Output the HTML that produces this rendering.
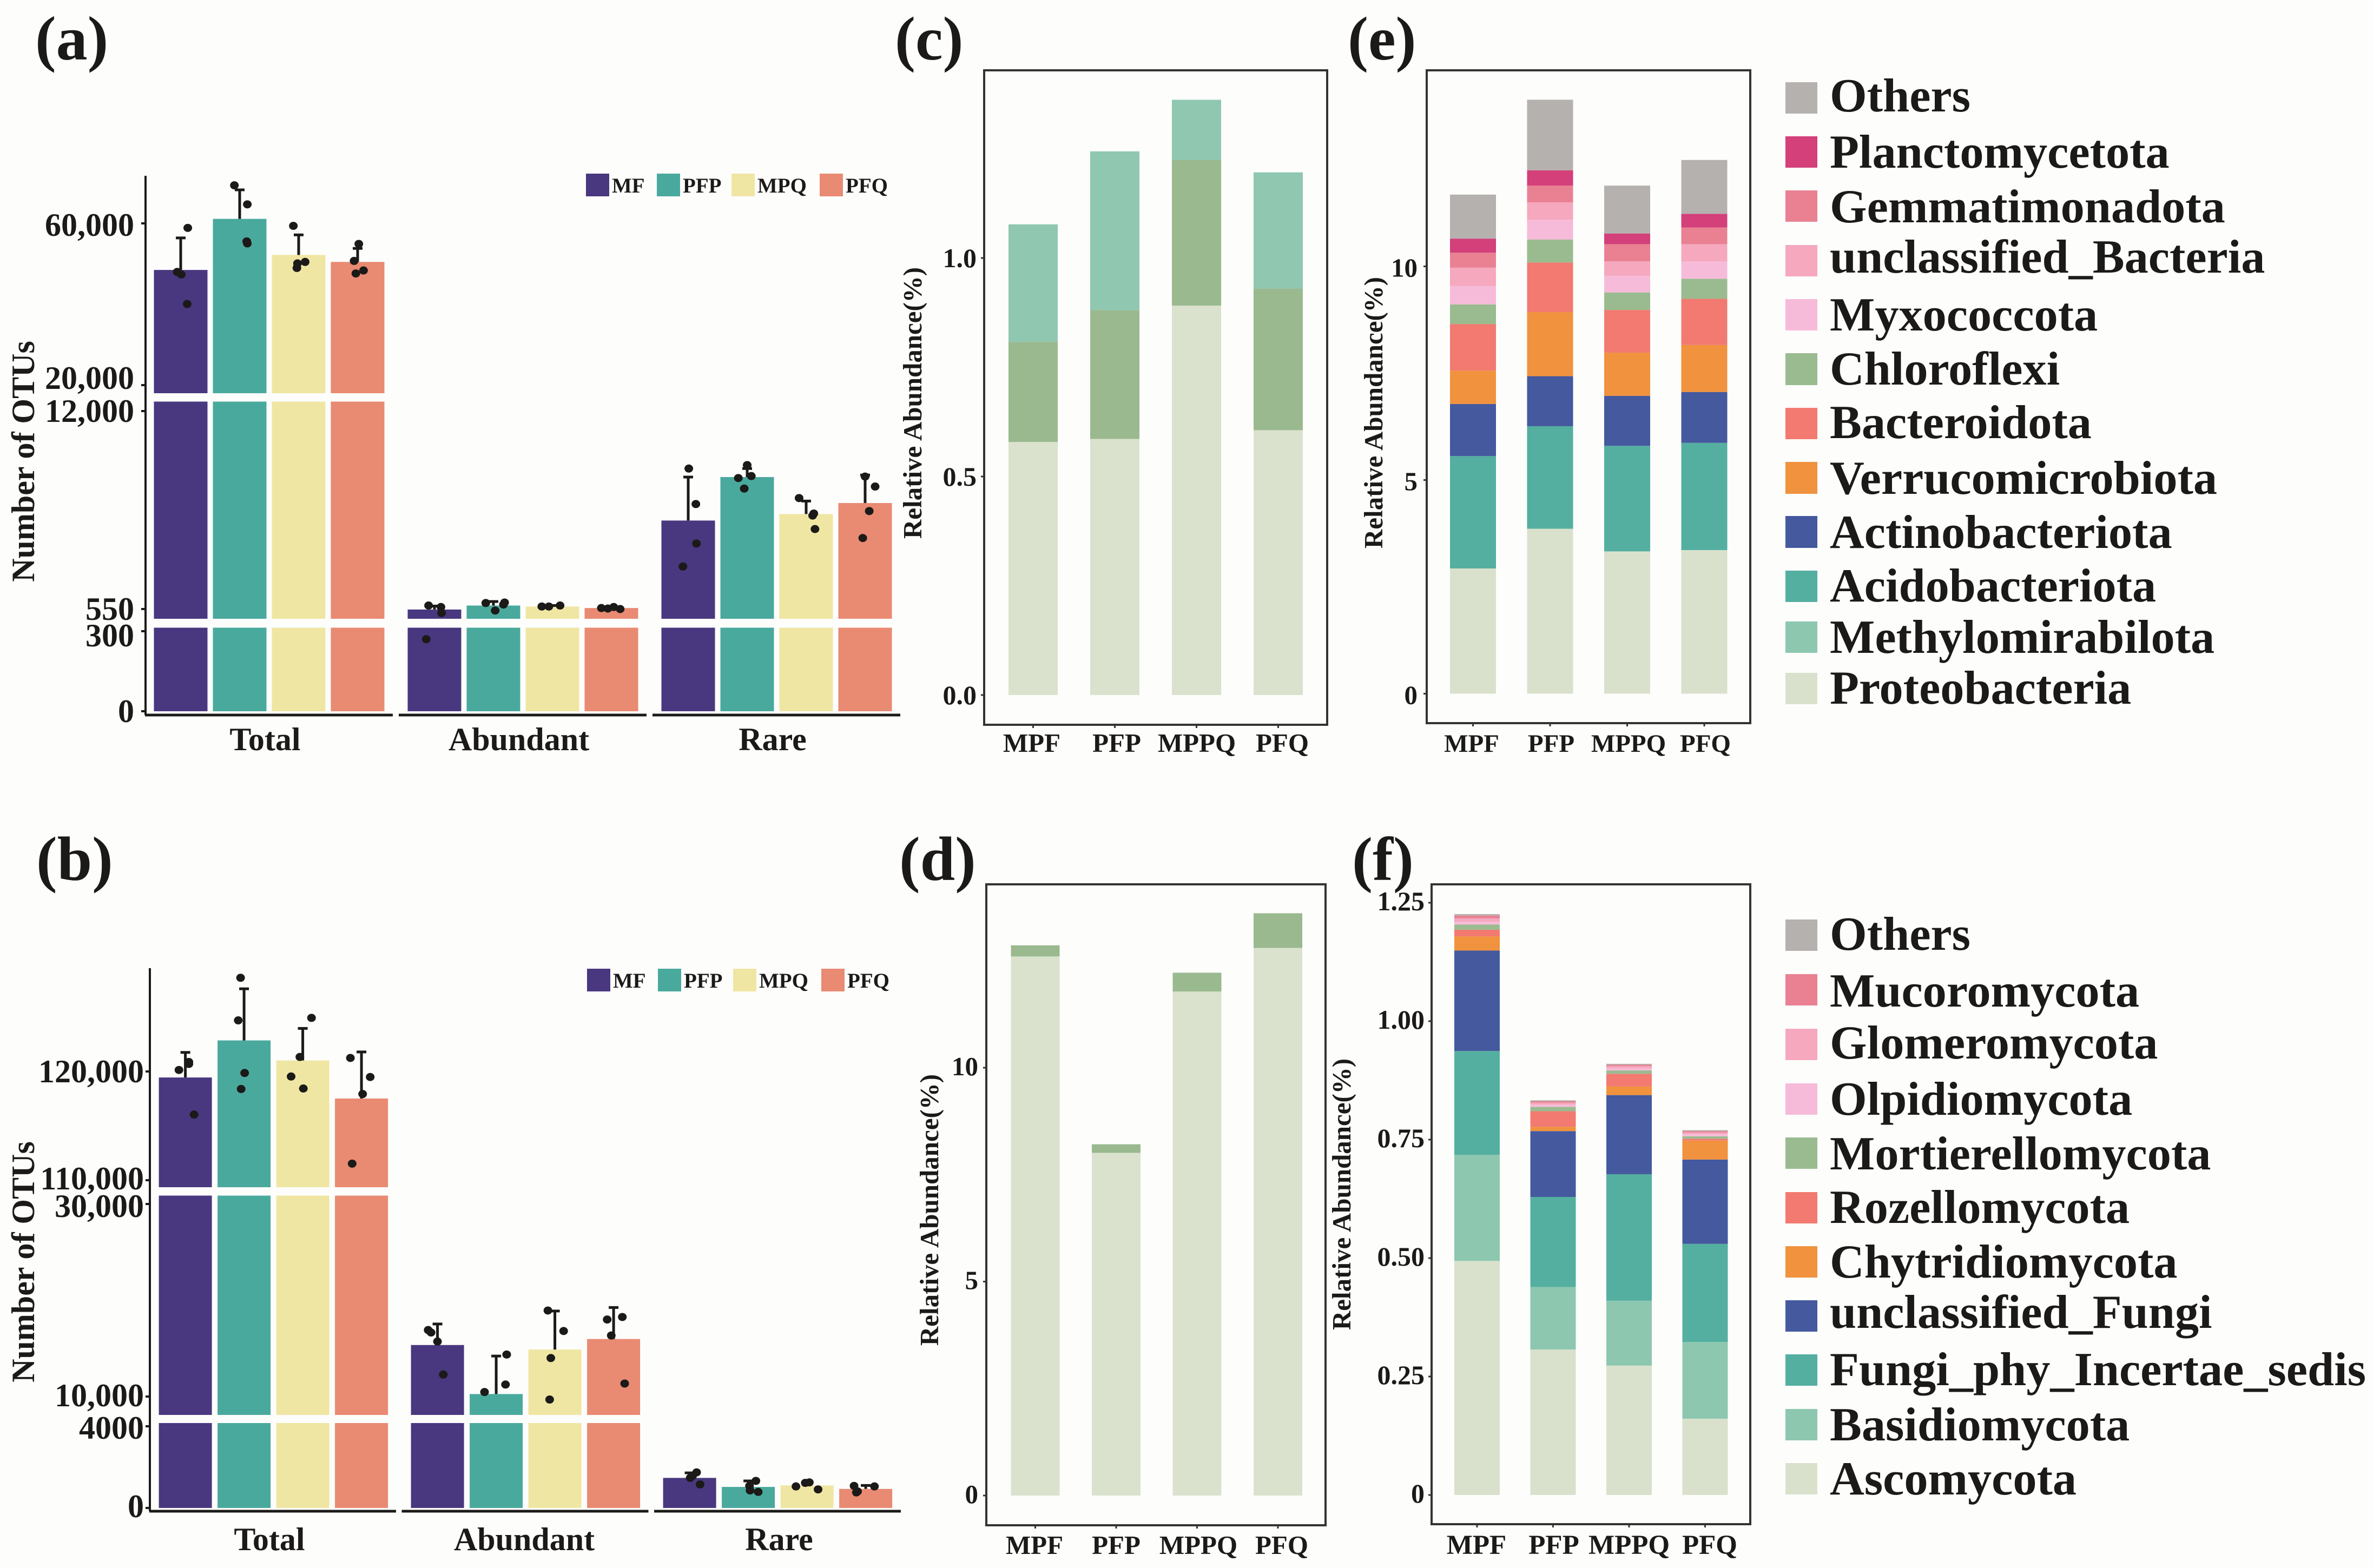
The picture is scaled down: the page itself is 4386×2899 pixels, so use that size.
<!DOCTYPE html>
<html lang="en">
<head>
<meta charset="utf-8">
<title>Microbial OTU counts and relative abundance</title>
<style>
html,body{margin:0;padding:0;background:#fdfdfc;}
svg{display:block;}
text{font-family:"Liberation Serif",serif;font-weight:bold;fill:#1b1a18;}
</style>
</head>
<body>
<svg id="fig" xmlns="http://www.w3.org/2000/svg" width="4386" height="2899" viewBox="0 0 4386 2899">
<rect x="0" y="0" width="4386" height="2899" fill="#fdfdfc"/>
<text x="65" y="110" font-size="116">(a)</text>
<text x="67" y="1627" font-size="116">(b)</text>
<text x="1654" y="110" font-size="114">(c)</text>
<text x="1662" y="1627" font-size="116">(d)</text>
<text x="2491" y="110" font-size="114">(e)</text>
<text x="2499" y="1627" font-size="114">(f)</text>

<g>
<rect x="3300" y="152" width="59" height="58" fill="#b5b1ae"/><text x="3382" y="206" font-size="88.3">Others</text>
<rect x="3300" y="252" width="59" height="58" fill="#d3407a"/><text x="3382" y="310" font-size="88.3">Planctomycetota</text>
<rect x="3300" y="352" width="59" height="58" fill="#e98193"/><text x="3382" y="411" font-size="88.3">Gemmatimonadota</text>
<rect x="3300" y="453" width="59" height="58" fill="#f5a8be"/><text x="3382" y="504" font-size="88.3">unclassified_Bacteria</text>
<rect x="3300" y="553" width="59" height="58" fill="#f6bbd8"/><text x="3382" y="611" font-size="88.3">Myxococcota</text>
<rect x="3300" y="653" width="59" height="59" fill="#9abb8f"/><text x="3382" y="711" font-size="88.3">Chloroflexi</text>
<rect x="3300" y="754" width="59" height="58" fill="#f27a70"/><text x="3382" y="810" font-size="88.3">Bacteroidota</text>
<rect x="3300" y="854" width="59" height="59" fill="#f0923e"/><text x="3382" y="913" font-size="88.3">Verrucomicrobiota</text>
<rect x="3300" y="954" width="59" height="59" fill="#44599e"/><text x="3382" y="1013" font-size="88.3">Actinobacteriota</text>
<rect x="3300" y="1055" width="59" height="58" fill="#54afa0"/><text x="3382" y="1112" font-size="88.3">Acidobacteriota</text>
<rect x="3300" y="1149" width="59" height="58" fill="#8dc7b0"/><text x="3382" y="1207" font-size="88.3">Methylomirabilota</text>
<rect x="3300" y="1244" width="59" height="58" fill="#d9e1cc"/><text x="3382" y="1301" font-size="88.3">Proteobacteria</text>
</g>

<g>
<rect x="3300" y="1700" width="59" height="58" fill="#b5b1ae"/><text x="3382" y="1756" font-size="88.3">Others</text>
<rect x="3300" y="1801" width="59" height="58" fill="#e98193"/><text x="3382" y="1861" font-size="88.3">Mucoromycota</text>
<rect x="3300" y="1902" width="59" height="58" fill="#f5a8be"/><text x="3382" y="1957" font-size="88.3">Glomeromycota</text>
<rect x="3300" y="2003" width="59" height="58" fill="#f6bbd8"/><text x="3382" y="2061" font-size="88.3">Olpidiomycota</text>
<rect x="3300" y="2103" width="59" height="58" fill="#9abb8f"/><text x="3382" y="2162" font-size="88.3">Mortierellomycota</text>
<rect x="3300" y="2204" width="59" height="58" fill="#f27a70"/><text x="3382" y="2261" font-size="88.3">Rozellomycota</text>
<rect x="3300" y="2304" width="59" height="58" fill="#f0923e"/><text x="3382" y="2362" font-size="88.3">Chytridiomycota</text>
<rect x="3300" y="2404" width="59" height="58" fill="#44599e"/><text x="3382" y="2455" font-size="88.3">unclassified_Fungi</text>
<rect x="3300" y="2504" width="59" height="58" fill="#54afa0"/><text x="3382" y="2561" font-size="88.3">Fungi_phy_Incertae_sedis</text>
<rect x="3300" y="2605" width="59" height="58" fill="#8dc7b0"/><text x="3382" y="2663" font-size="88.3">Basidiomycota</text>
<rect x="3300" y="2705" width="59" height="58" fill="#d9e1cc"/><text x="3382" y="2763" font-size="88.3">Ascomycota</text>
</g>
</svg>

<script>
// ---------- shared categories ----------
const treatments = ['MF','PFP','MPQ','PFQ'];
const treatmentColors = ['#49387f','#4aa99d','#f0e6a3','#e98a72'];
const groups = ['Total','Abundant','Rare'];
const stackCategories = ['MPF','PFP','MPPQ','PFQ'];

// ---------- panel (a) ----------
const aTickValues = [60000,20000,12000,550,300,0];
const aTickLabels = ['60,000','20,000','12,000','550','300','0'];
const aMeans = [[48483,61115,52198,50465],[521,752,695,608],[5668,8183,6044,6680]];
const aErrorTops = [[56409,68297,57152,53808],[723,984,752,695],[8183,8675,6795,8299]];
const aTotalPoints = [[58885,47987,47368,40062],[69412,64706,55542,55046],[59381,50465,50093,48978],[54923,50712,48359,47616]];
const aAbundantPoints = [[752,666,319,270],[897,926,810,463],[695,695,752],[608,579,666,550]];
const aRarePoints = [[8675,6622,4338,3008],[8877,8241,8126,7518],[6969,6073,5957,5176],[8212,7634,6217,4656]];
const aJitter = [
 [[12,-6,1,11],[-9,13,12,13],[-9,11,-2,-3],[2,-6,10,-3]],
 [[-10,11,12,-14],[-13,19,17,3],[-18,-6,13],[-17,-6,4,15]],
 [[1,13,14,-9],[0,7,-15,-5],[-12,13,11,15],[0,17,7,-4]]
];

// ---------- panel (b) ----------
const bTickValues = [120000,110000,30000,10000,4000,0];
const bTickLabels = ['120,000','110,000','30,000','10,000','4000','0'];
const bMeans = [[119447,122857,121014,117512],[15351,10260,14883,15974],[1472,1031,1104,933]];
const bErrorTops = [[121751,127604,123963,121797],[17533,14208,18883,19247],[1718,1325,1252,1104]];
const bTotalPoints = [[120876,120691,120138,116037],[128618,124700,119862,118387],[124931,121336,119539,118433],[121244,119493,117926,111521]];
const bAbundantPoints = [[16909,16650,15715,12286],[14364,11247,10468],[18935,16805,14000,9688],[18260,18000,16338,11351]];
const bRarePoints = [[1742,1571,1472,1153],[1325,859,785,1080],[1055,1227,1252,908],[1080,1055,761,810]];
const bJitter = [
 [[6,6,-11,15],[-6,-10,1,-5],[15,-5,-20,1],[-19,15,2,-16]],
 [[-16,-11,0,10],[18,16,-20],[-12,15,-7,-9],[15,-11,-4,19]],
 [[12,5,1,18],[13,3,17,2],[-19,-3,4,19],[-20,15,-16,-14]]
];

// ---------- panel (c) ----------
const cProteobacteria = [0.579,0.586,0.891,0.606];
const cChloroflexi = [0.229,0.295,0.333,0.324];
const cMethylomirabilota = [0.269,0.363,0.138,0.266];
const cTickValues = [0,0.5,1];
const cTickLabels = ['0.0','0.5','1.0'];

// ---------- panel (d) ----------
const dAscomycota = [12.6,8.01,11.78,12.8];
const dMortierellomycota = [0.26,0.2,0.44,0.81];
const dTickValues = [0,5,10];
const dTickLabels = ['0','5','10'];

// ---------- panel (e) ----------
const eProteobacteria = [2.93,3.86,3.33,3.36];
const eMethylomirabilota = [0,0,0,0];
const eAcidobacteriota = [2.63,2.40,2.47,2.51];
const eActinobacteriota = [1.22,1.17,1.17,1.19];
const eVerrucomicrobiota = [0.78,1.50,1.01,1.10];
const eBacteroidota = [1.09,1.16,1.00,1.08];
const eChloroflexi = [0.46,0.54,0.41,0.47];
const eMyxococcota = [0.43,0.46,0.39,0.41];
const eUnclassifiedBacteria = [0.43,0.41,0.34,0.40];
const eGemmatimonadota = [0.35,0.39,0.40,0.39];
const ePlanctomycetota = [0.33,0.36,0.25,0.32];
const eOthers = [1.03,1.65,1.12,1.26];
const eTickValues = [0,5,10];
const eTickLabels = ['0','5','10'];

// ---------- panel (f) ----------
const fAscomycota = [0.494,0.307,0.273,0.161];
const fBasidiomycota = [0.224,0.132,0.137,0.162];
const fIncertaeSedis = [0.219,0.190,0.267,0.207];
const fUnclassifiedFungi = [0.212,0.139,0.167,0.178];
const fChytridiomycota = [0.030,0.009,0.018,0.040];
const fRozellomycota = [0.014,0.033,0.027,0.004];
const fMortierellomycota = [0.011,0.009,0.007,0.005];
const fOlpidiomycota = [0.006,0.005,0.004,0.005];
const fGlomeromycota = [0.007,0.004,0.005,0.003];
const fMucoromycota = [0.006,0.003,0.003,0.003];
const fOthers = [0.003,0.002,0.002,0.002];
const fTickValues = [0,0.25,0.5,0.75,1,1.25];
const fTickLabels = ['0','0.25','0.50','0.75','1.00','1.25'];

// ---------- helpers ----------
const SVGNS = 'http://www.w3.org/2000/svg';
const root = document.getElementById('fig');
function make(tag, attrs, parent, txt) {
  const n = document.createElementNS(SVGNS, tag);
  for (const k in attrs) n.setAttribute(k, attrs[k]);
  if (txt !== undefined) n.textContent = txt;
  (parent || root).appendChild(n);
  return n;
}
function slug(s) {
  return String(s).toLowerCase().replace(/[^a-z0-9]+/g, '-').replace(/^-|-$/g, '');
}
function segScale(seg, v) {
  return seg.r0 + (v - seg.d0) * (seg.r1 - seg.r0) / (seg.d1 - seg.d0);
}
function brokenY(segs, v) {
  for (const s of segs) {
    if (segScale(s, v) >= s.top) return segScale(s, v);
  }
  return segScale(segs[segs.length - 1], v);
}

// ---------- broken-axis bar panels ----------
function drawBrokenPanel(cfg) {
  const g = make('g', {});
  
  

  const yAxis = make('line', {x1:cfg.axisX, x2:cfg.axisX, y1:cfg.axisTop, y2:cfg.axisBottom, stroke:'#1b1a18', 'stroke-width':4}, g);
  
  

  cfg.tickValues.forEach(function (v, i) {
    const y = brokenY(cfg.segs, v);
    const t = make('line', {x1:cfg.axisX - 8, x2:cfg.axisX, y1:y, y2:y, stroke:'#1b1a18', 'stroke-width':4}, g);
    
    
    const nudge = cfg.labelNudge[v] || 0;
    const l = make('text', {x:cfg.labelRight, y:y + 20 + nudge, 'text-anchor':'end', 'font-size':60}, g, cfg.tickLabels[i]);
    
    
  });

  const title = make('text', {transform:'translate(63 ' + cfg.titleY + ') rotate(-90)', 'text-anchor':'middle', 'font-size':60}, g, 'Number of OTUs');
  
  

  groups.forEach(function (groupName, gi) {
    const axisStart = cfg.xLineStart + gi * cfg.xLineStep;
    const xl = make('line', {x1:axisStart, x2:axisStart + cfg.xLineLen, y1:cfg.axisBottom, y2:cfg.axisBottom, stroke:'#1b1a18', 'stroke-width':5}, g);
    
    

    const gl = make('text', {x:cfg.groupLabelX + gi * cfg.groupLabelStep, y:cfg.groupLabelY, 'text-anchor':'middle', 'font-size':60}, g, groupName);
    
    

    treatments.forEach(function (tr, ti) {
      const cx = cfg.x0 + gi * cfg.groupStep + ti * cfg.barStep;
      const v = cfg.means[gi][ti];
      cfg.segs.forEach(function (s) {
        const raw = segScale(s, v);
        if (raw >= s.bot) return;
        const top = Math.max(raw, s.top);
        const r = make('rect', {x:cx - cfg.barW / 2, y:top, width:cfg.barW, height:s.bot - top, fill:treatmentColors[ti]}, g);
        
        
      });
      const yTop = brokenY(cfg.segs, v);
      const yErr = brokenY(cfg.segs, cfg.errorTops[gi][ti]);
      const e = make('path', {d:'M' + cx + ' ' + yTop + 'V' + yErr + 'M' + (cx - 9) + ' ' + yErr + 'H' + (cx + 9), stroke:'#1b1a18', 'stroke-width':5, fill:'none'}, g);
      
      
      cfg.points[gi][ti].forEach(function (pv, pi) {
        const dot = make('ellipse', {cx:cx + cfg.jitter[gi][ti][pi] * cfg.barW / 91, cy:brokenY(cfg.segs, pv), rx:8, ry:7.5, fill:'#1b1a18'}, g);
        
        
      });
    });
  });

  // legend
  treatments.forEach(function (tr, i) {
    const sw = make('rect', {x:cfg.legendX[i], y:cfg.legendY, width:43, height:42, fill:treatmentColors[i]}, g);
    
    
    const lt = make('text', {x:cfg.legendX[i] + 48, y:cfg.legendY + 35, 'font-size':39}, g, tr);
    
    
  });
}

drawBrokenPanel({
  id:'panel-a', axisX:269, axisTop:325, axisBottom:1322, labelRight:248, titleY:853,
  tickValues:aTickValues, tickLabels:aTickLabels, labelNudge:{60000:3, 20000:-13, 300:8},
  segs:[
    {d0:0, d1:300, r0:1315, r1:1167, top:1160.5, bot:1315},
    {d0:550, d1:12000, r0:1126, r1:760, top:742.5, bot:1144},
    {d0:20000, d1:60000, r0:712, r1:413, top:300, bot:727}
  ],
  x0:334, groupStep:469, barStep:109, barW:99,
  xLineStart:268, xLineStep:469, xLineLen:458,
  groupLabelX:490, groupLabelStep:469, groupLabelY:1387,
  means:aMeans, errorTops:aErrorTops,
  points:[aTotalPoints, aAbundantPoints, aRarePoints], jitter:aJitter,
  legendX:[1083,1214,1352,1515], legendY:321
});

drawBrokenPanel({
  id:'panel-b', axisX:277, axisTop:1790, axisBottom:2794, labelRight:266, titleY:2333,
  tickValues:bTickValues, tickLabels:bTickLabels, labelNudge:{110000:-3, 30000:4, 10000:-2, 4000:3, 0:-3},
  segs:[
    {d0:0, d1:4000, r0:2788, r1:2637, top:2631, bot:2788},
    {d0:10000, d1:30000, r0:2582, r1:2226, top:2210.5, bot:2616},
    {d0:110000, d1:120000, r0:2182, r1:1981, top:1760, bot:2195}
  ],
  x0:342.6, groupStep:466, barStep:108.5, barW:98,
  xLineStart:276, xLineStep:466.5, xLineLen:456,
  groupLabelX:498, groupLabelStep:471, groupLabelY:2866,
  means:bMeans, errorTops:bErrorTops,
  points:[bTotalPoints, bAbundantPoints, bRarePoints], jitter:bJitter,
  legendX:[1085,1216,1355,1518], legendY:1791
});

// ---------- stacked panels ----------
function drawStack(cfg) {
  const g = make('g', {});
  
  

  const y = function (v) { return cfg.y0 - v * cfg.k; };

  const totals = [0,0,0,0];
  cfg.series.forEach(function (s) {
    s.values.forEach(function (v, ci) {
      const cx = cfg.x0 + ci * cfg.step;
      const yBottom = y(totals[ci]);
      const yTop = y(totals[ci] + v);
      totals[ci] += v;
      const r = make('rect', {x:cx - cfg.barW / 2, y:yTop, width:cfg.barW, height:yBottom - yTop, fill:s.color}, g);
      
      
    });
  });

  const frame = make('rect', {x:cfg.frame[0], y:cfg.frame[1], width:cfg.frame[2] - cfg.frame[0], height:cfg.frame[3] - cfg.frame[1], fill:'none', stroke:'#333331', 'stroke-width':4}, g);
  
  

  cfg.tickValues.forEach(function (v, i) {
    const t = make('line', {x1:cfg.frame[0] - 6, x2:cfg.frame[0], y1:y(v), y2:y(v), stroke:'#333331', 'stroke-width':3}, g);
    
    
    const l = make('text', {x:cfg.labelRight, y:y(v) + cfg.tickDy, 'text-anchor':'end', 'font-size':cfg.tickFont}, g, cfg.tickLabels[i]);
    
    
  });

  stackCategories.forEach(function (c, i) {
    const cx = cfg.x0 + i * cfg.step;
    const t = make('line', {x1:cx, x2:cx, y1:cfg.frame[3], y2:cfg.frame[3] + 6, stroke:'#333331', 'stroke-width':3}, g);
    
    
    const l = make('text', {x:cfg.catLabelX[i], y:cfg.catLabelY, 'text-anchor':'middle', 'font-size':cfg.catFont}, g, c);
    
    
  });

  const title = make('text', {transform:'translate(' + cfg.titleX + ' ' + cfg.titleY + ') rotate(-90)', 'text-anchor':'middle', 'font-size':49}, g, 'Relative Abundance(%)');
  
  
}

drawStack({
  id:'panel-c', frame:[1819,130,2453,1340], y0:1285, k:808,
  x0:1909.5, step:151, barW:91,
  series:[
    {name:'Proteobacteria', color:'#dae2cd', values:cProteobacteria},
    {name:'Chloroflexi', color:'#9ab98f', values:cChloroflexi},
    {name:'Methylomirabilota', color:'#8fc7b1', values:cMethylomirabilota}
  ],
  tickValues:cTickValues, tickLabels:cTickLabels, labelRight:1805, tickFont:50, tickDy:17,
  catLabelX:[1907,2064,2212,2370], catLabelY:1390, catFont:49,
  titleX:1703, titleY:745
});

drawStack({
  id:'panel-d', frame:[1823,1635,2450,2820], y0:2765, k:79.1,
  x0:1913.5, step:149.5, barW:90,
  series:[
    {name:'Ascomycota', color:'#dae2cd', values:dAscomycota},
    {name:'Mortierellomycota', color:'#9ab98f', values:dMortierellomycota}
  ],
  tickValues:dTickValues, tickLabels:dTickLabels, labelRight:1808, tickFont:49, tickDy:14,
  catLabelX:[1912,2063,2215,2369], catLabelY:2873, catFont:49,
  titleX:1734, titleY:2237
});

drawStack({
  id:'panel-e', frame:[2637,130,3235,1337], y0:1282.5, k:79,
  x0:2722.5, step:142.5, barW:85,
  series:[
    {name:'Proteobacteria', color:'#d9e1cc', values:eProteobacteria},
    {name:'Methylomirabilota', color:'#8dc7b0', values:eMethylomirabilota},
    {name:'Acidobacteriota', color:'#54afa0', values:eAcidobacteriota},
    {name:'Actinobacteriota', color:'#44599e', values:eActinobacteriota},
    {name:'Verrucomicrobiota', color:'#f0923e', values:eVerrucomicrobiota},
    {name:'Bacteroidota', color:'#f27a70', values:eBacteroidota},
    {name:'Chloroflexi', color:'#9abb8f', values:eChloroflexi},
    {name:'Myxococcota', color:'#f6bbd8', values:eMyxococcota},
    {name:'unclassified-Bacteria', color:'#f5a8be', values:eUnclassifiedBacteria},
    {name:'Gemmatimonadota', color:'#e98193', values:eGemmatimonadota},
    {name:'Planctomycetota', color:'#d3407a', values:ePlanctomycetota},
    {name:'Others', color:'#b5b1ae', values:eOthers}
  ],
  tickValues:eTickValues, tickLabels:eTickLabels, labelRight:2620, tickFont:49, tickDy:19,
  catLabelX:[2720,2867,3010,3152], catLabelY:1390, catFont:47,
  titleX:2555, titleY:763
});

drawStack({
  id:'panel-f', frame:[2646,1635,3235,2818], y0:2764, k:876,
  x0:2730, step:140.5, barW:84,
  series:[
    {name:'Ascomycota', color:'#d9e1cc', values:fAscomycota},
    {name:'Basidiomycota', color:'#8dc7b0', values:fBasidiomycota},
    {name:'Fungi-phy-Incertae-sedis', color:'#54afa0', values:fIncertaeSedis},
    {name:'unclassified-Fungi', color:'#44599e', values:fUnclassifiedFungi},
    {name:'Chytridiomycota', color:'#f0923e', values:fChytridiomycota},
    {name:'Rozellomycota', color:'#f27a70', values:fRozellomycota},
    {name:'Mortierellomycota', color:'#9abb8f', values:fMortierellomycota},
    {name:'Olpidiomycota', color:'#f6bbd8', values:fOlpidiomycota},
    {name:'Glomeromycota', color:'#f5a8be', values:fGlomeromycota},
    {name:'Mucoromycota', color:'#e98193', values:fMucoromycota},
    {name:'Others', color:'#b5b1ae', values:fOthers}
  ],
  tickValues:fTickValues, tickLabels:fTickLabels, labelRight:2633, tickFont:50, tickDy:14,
  catLabelX:[2729,2872,3011,3160], catLabelY:2873, catFont:51,
  titleX:2496, titleY:2208
});
</script>
</body>
</html>
